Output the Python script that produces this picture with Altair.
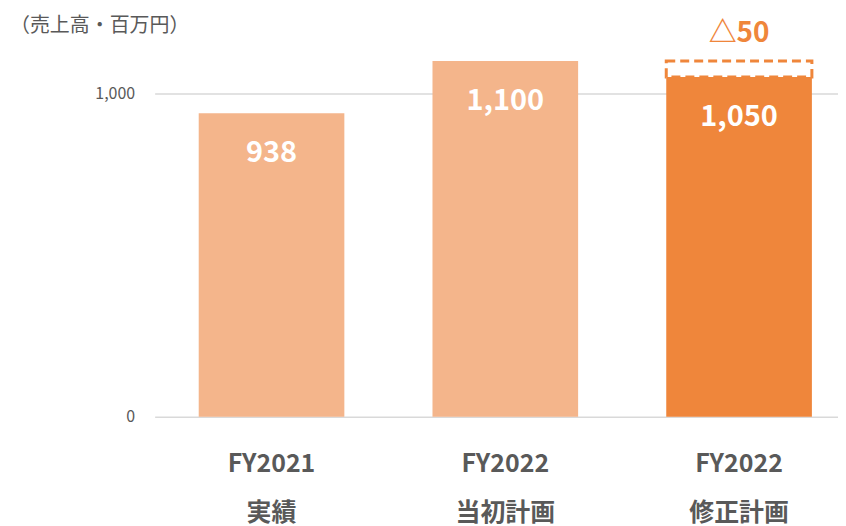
import altair as alt
import pandas as pd

categories = ["FY2021|実績", "FY2022|当初計画", "FY2022|修正計画"]
values = [938, 1100, 1050]
labels = ["938", "1,100", "1,050"]
colors = ["#F4B58B", "#F4B58B", "#EF863B"]
gap_low = [1050]
gap_high = [1100]
gap_cat = ["FY2022|修正計画"]
gap_label = ["△50"]

FONT = "Noto Sans CJK JP"
ORANGE = "#EF863B"

df = pd.DataFrame({"cat": categories, "value": values, "label": labels, "color": colors})
gap = pd.DataFrame({"cat": gap_cat, "low": gap_low, "high": gap_high, "label": gap_label})

xscale = alt.Scale(range=[0, 703], paddingInner=0.377, paddingOuter=0.1885)
xaxis = alt.Axis(title=None, labelAngle=0, domain=False, ticks=False,
                 labelExpr="split(datum.label, '|')",
                 labelFont=FONT, labelFontSize=25, labelFontWeight="bold",
                 labelColor="#595959", labelLineHeight=49, labelPadding=35,
                 labelBaseline="top")
yscale = alt.Scale(domain=[0, 1200], nice=False)
yaxis = alt.Axis(title=None, values=[0, 1000], format=",.0f", domain=False, ticks=False,
                 labelFont=FONT, labelFontSize=16, labelColor="#595959",
                 labelPadding=20, gridColor="#D9D9D9", gridWidth=1.5)


def X():
    return alt.X("cat:N", sort=categories, scale=xscale, axis=xaxis)


def Y(field):
    return alt.Y(field, scale=yscale, axis=yaxis)


bars = alt.Chart(df).mark_bar().encode(
    x=X(),
    y=Y("value:Q"),
    color=alt.Color("color:N", scale=None),
)

gapbox = alt.Chart(gap).mark_bar(fill="white", stroke=ORANGE, strokeWidth=3,
                                 strokeDash=[9, 5]).encode(
    x=X(),
    y=Y("low:Q"),
    y2="high:Q",
)

texts = alt.Chart(df).mark_text(color="white", font=FONT, fontSize=29, fontWeight="bold",
                                baseline="middle", dy=40).encode(
    x=X(),
    y=Y("value:Q"),
    text="label:N",
)

gaptext = alt.Chart(gap).mark_text(color=ORANGE, font=FONT, fontSize=28, fontWeight="bold",
                                   baseline="middle", dy=-27).encode(
    x=X(),
    y=Y("high:Q"),
    text="label:N",
)

chart = alt.layer(bars, gapbox, texts, gaptext).properties(
    width=685, height=389,
    autosize=alt.AutoSizeParams(type="none"),
    padding={"left": 147, "top": 20, "right": 0, "bottom": 110},
    title=alt.TitleParams("（売上高・百万円）", anchor="start", frame="group", dx=-145, dy=20,
                          font=FONT, fontSize=20, fontWeight="normal", color="#595959"),
).configure_view(stroke=None)

chart.save("out.html", embed_options={"renderer": "svg", "actions": False})
